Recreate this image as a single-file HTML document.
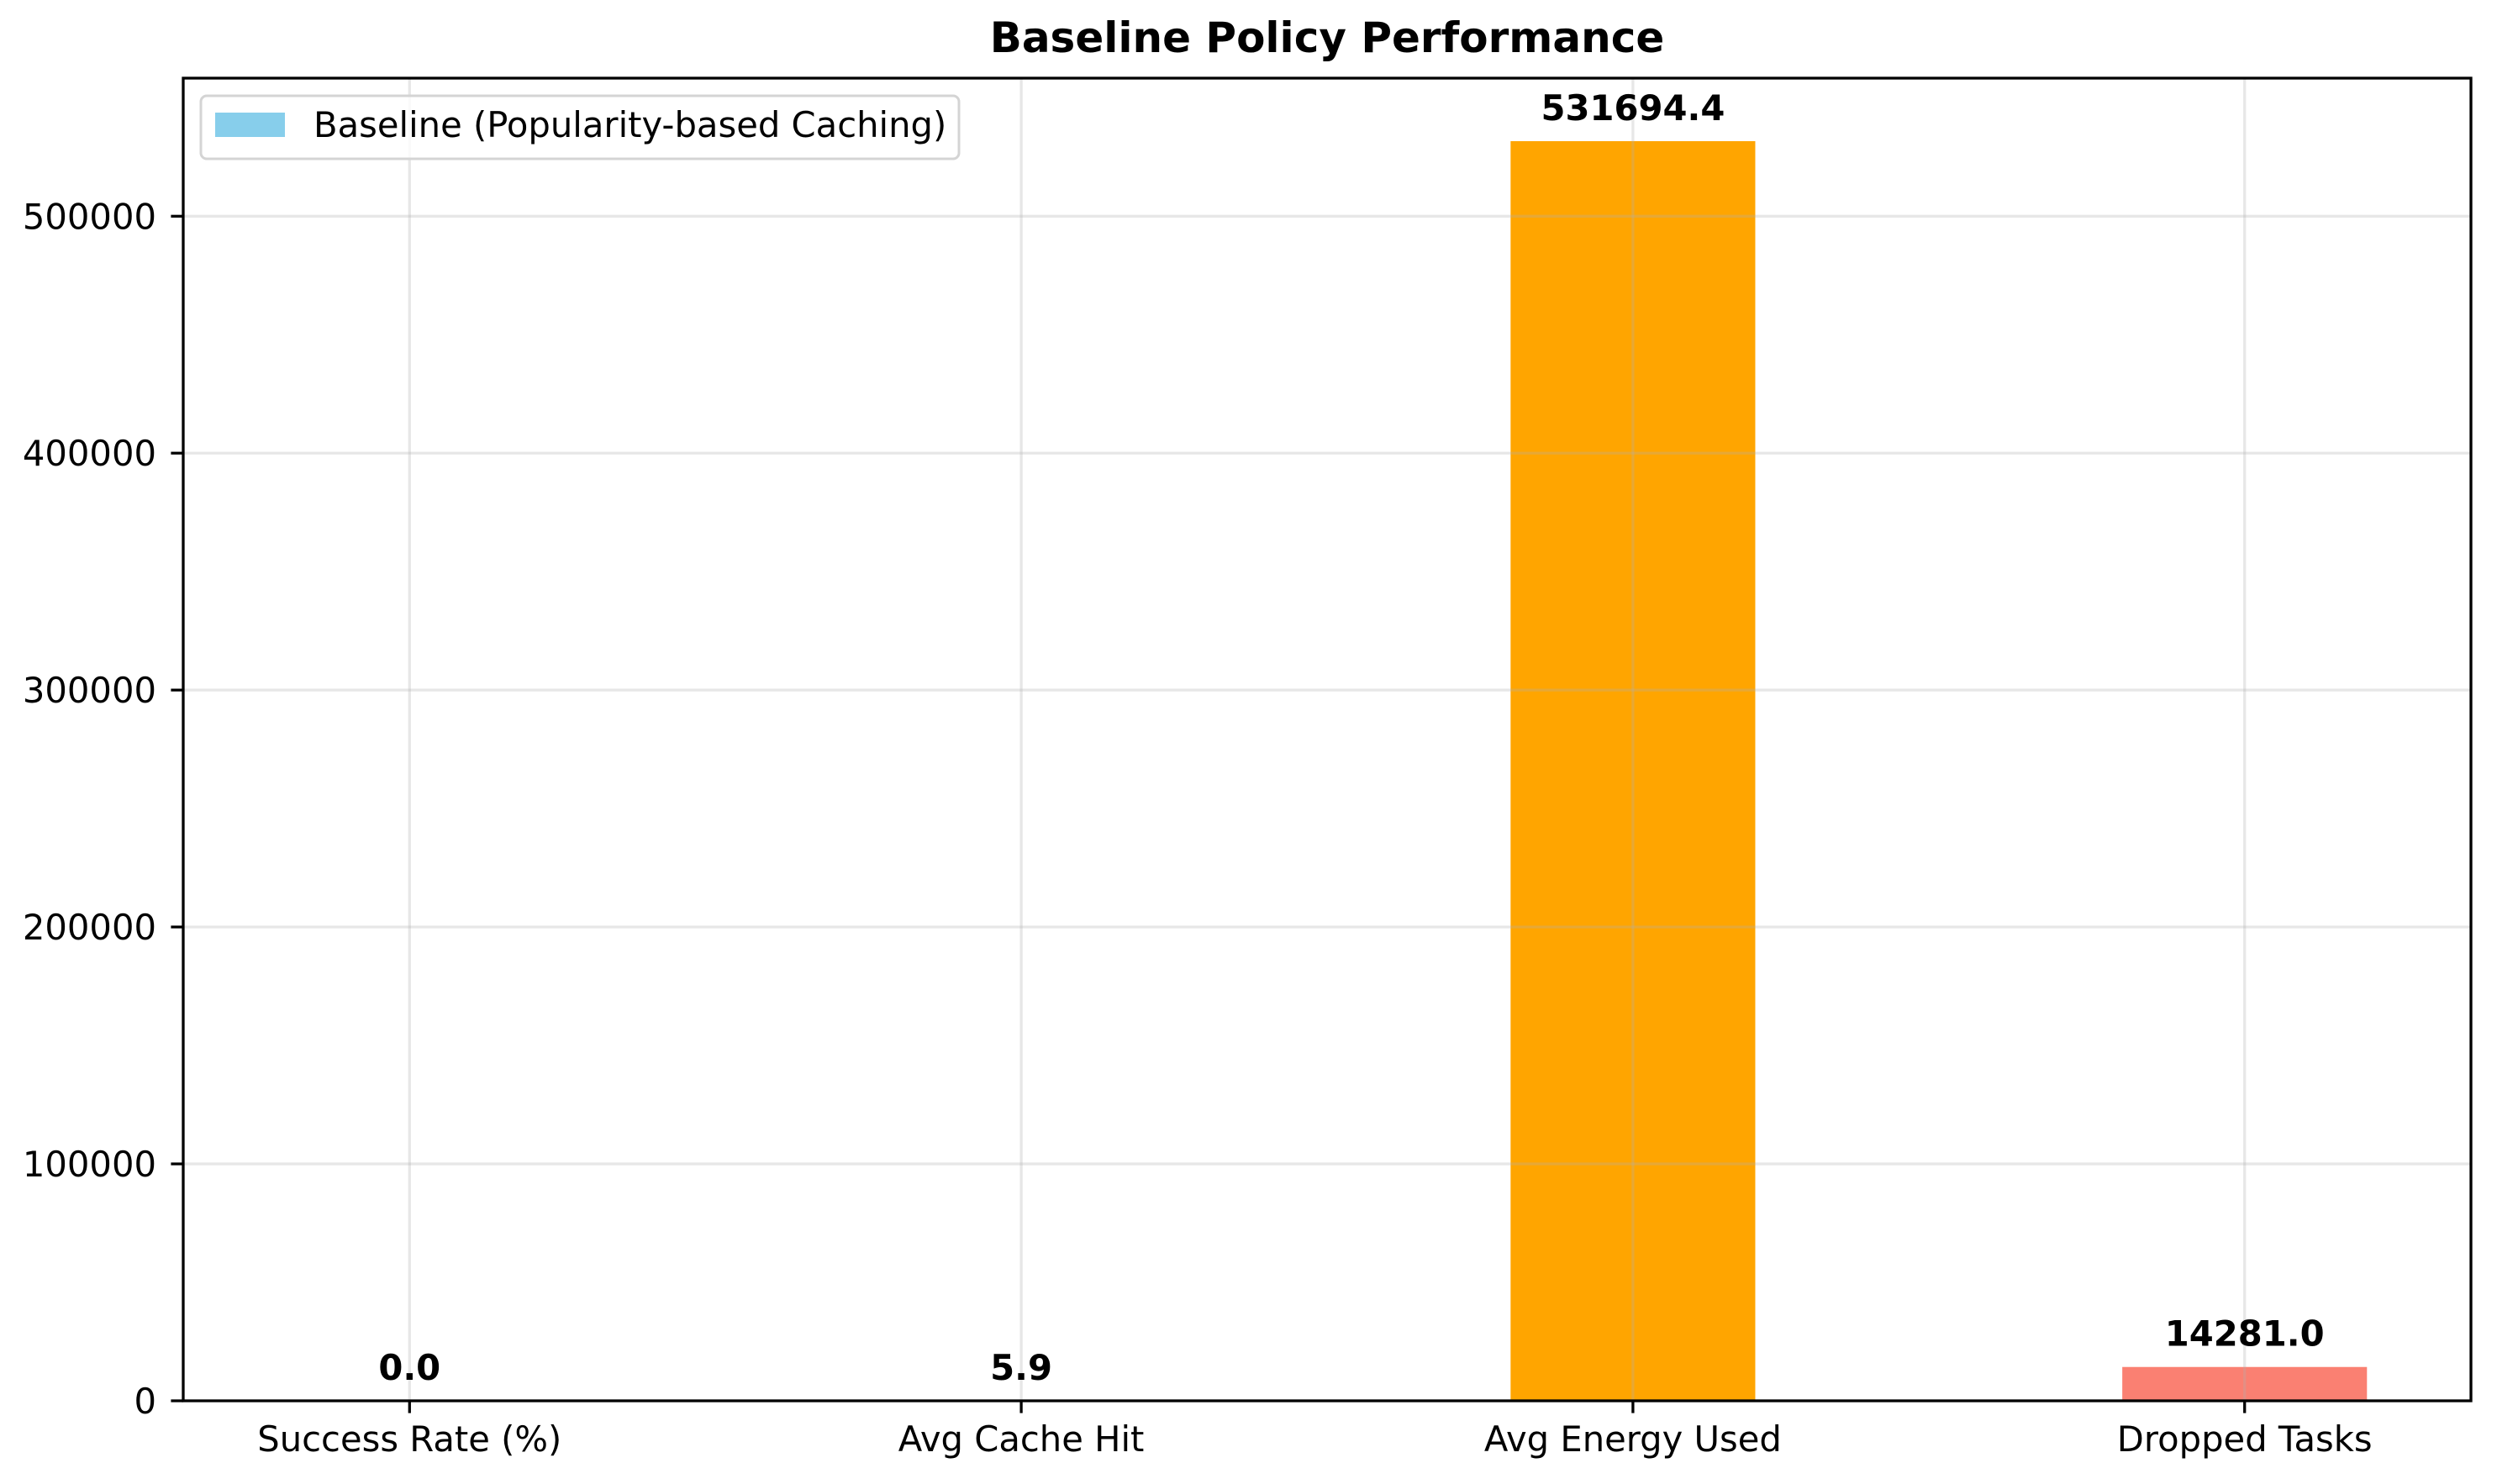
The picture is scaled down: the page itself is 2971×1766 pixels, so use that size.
<!DOCTYPE html>
<html><head><meta charset="utf-8"><style>
html,body{margin:0;padding:0;background:#fff;}
svg{display:block;font-family:"DejaVu Sans","Liberation Sans",sans-serif;}
</style></head><body>
<svg id="chart" width="2971" height="1766" viewBox="0 0 2971 1766" xmlns="http://www.w3.org/2000/svg">
<rect width="2971" height="1766" fill="#fff"/>
<text x="1579" y="62" font-size="50" font-weight="bold" text-anchor="middle">Baseline Policy Performance</text>
<g id="bars"></g>
<g id="grid"></g>
<g id="axes"></g>
<g id="labels"></g>
<g>
<rect x="239" y="114" width="902" height="75" rx="7" fill="#fff" fill-opacity="0.8" stroke="#d4d4d4" stroke-width="3"/>
<rect x="256" y="134" width="83" height="29" fill="#87CEEB"/>
<text x="373" y="163" font-size="41.7">Baseline (Popularity-based Caching)</text>
</g>
</svg>
<script>
const categories = ["Success Rate (%)", "Avg Cache Hit", "Avg Energy Used", "Dropped Tasks"];
const values = [0.0, 5.9, 531694.4, 14281.0];
const valueLabels = ["0.0", "5.9", "531694.4", "14281.0"];
const colors = ["#87CEEB", "#90EE90", "#FFA500", "#FA8072"];
const yTicks = [0, 100000, 200000, 300000, 400000, 500000];

const NS = "http://www.w3.org/2000/svg";
const L = 218, R = 2940, T = 93, B = 1667;
const barW = 0.4;
const xmin = -barW/2 - 0.05*(categories.length - 1 + barW);
const xmax = categories.length - 1 + barW/2 + 0.05*(categories.length - 1 + barW);
const ymax = Math.max(...values) * 1.05;
const xs = v => L + (v - xmin) / (xmax - xmin) * (R - L);
const ys = v => B - v / ymax * (B - T);
function mk(tag, attrs, parent) {
  const e = document.createElementNS(NS, tag);
  for (const k in attrs) e.setAttribute(k, attrs[k]);
  parent.appendChild(e);
  return e;
}
const gBars = document.getElementById('bars');
const gGrid = document.getElementById('grid');
const gAxes = document.getElementById('axes');
const gLab = document.getElementById('labels');

categories.forEach((c, i) => {
  const x0 = xs(i - barW/2), x1 = xs(i + barW/2), yt = ys(values[i]);
  const r = mk('rect', {x: x0, y: yt, width: x1 - x0, height: B - yt, fill: colors[i]}, gBars);
  
  
  const t = mk('text', {x: xs(i), y: yt - 25, 'font-size': 41.7, 'font-weight': 'bold', 'text-anchor': 'middle'}, gLab);
  t.textContent = valueLabels[i];
  
  
  const g = mk('line', {x1: xs(i), x2: xs(i), y1: T, y2: B, stroke: '#b0b0b0', 'stroke-opacity': 0.3, 'stroke-width': 3.3}, gGrid);
  
  
  const tk = mk('line', {x1: xs(i), x2: xs(i), y1: B, y2: B + 14.6, stroke: '#000', 'stroke-width': 3.3}, gAxes);
  
  
  const tl = mk('text', {x: xs(i), y: 1727, 'font-size': 41.7, 'text-anchor': 'middle'}, gAxes);
  tl.textContent = c;
  
  
});
yTicks.forEach(v => {
  const y = ys(v);
  const g = mk('line', {x1: L, x2: R, y1: y, y2: y, stroke: '#b0b0b0', 'stroke-opacity': 0.3, 'stroke-width': 3.3}, gGrid);
  
  
  const tk = mk('line', {x1: L - 14.6, x2: L, y1: y, y2: y, stroke: '#000', 'stroke-width': 3.3}, gAxes);
  
  
  const tl = mk('text', {x: 186, y: y + 15, 'font-size': 41.7, 'text-anchor': 'end'}, gAxes);
  tl.textContent = String(v);
  
  
});
const frame = mk('rect', {x: L, y: T, width: R - L, height: B - T, fill: 'none', stroke: '#000', 'stroke-width': 3.3}, gAxes);


</script>
</body></html>
